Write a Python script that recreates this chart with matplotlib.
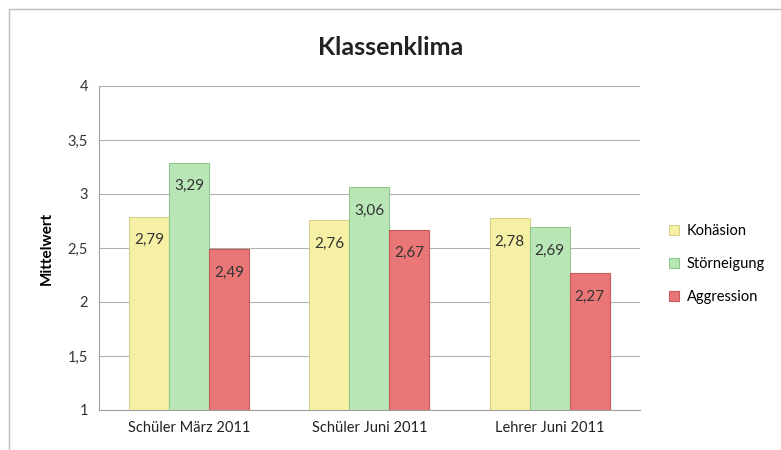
import matplotlib
matplotlib.use("Agg")
import matplotlib.pyplot as plt
import numpy as np
from matplotlib.patches import Rectangle

# data
categories = ["Schüler März 2011", "Schüler Juni 2011", "Lehrer Juni 2011"]
series_names = ["Kohäsion", "Störneigung", "Aggression"]
kohaesion = [2.79, 2.76, 2.78]
stoerneigung = [3.29, 3.06, 2.69]
aggression = [2.49, 2.67, 2.27]
yticks = [1, 1.5, 2, 2.5, 3, 3.5, 4]

colors = ["#f6f0a4", "#b9e6b6", "#e97777"]
edges = ["#d8d08a", "#8cc98c", "#c85a5a"]

plt.rcParams["font.family"] = ["Lato", "DejaVu Sans"]

fig = plt.figure(figsize=(7.81, 4.5), dpi=100)
# outer chart frame, cut off at right and bottom like the scan
fig.patches.append(Rectangle((9 / 781, -0.05), 1.0, 1.05 - 9 / 450, transform=fig.transFigure,
                             fill=False, edgecolor="#bdbdbd", linewidth=1.0))
ax = fig.add_axes([0.127, 0.089, 0.692, 0.720])

x = np.arange(len(categories))
width = 0.222
for i, (vals, name) in enumerate(zip([kohaesion, stoerneigung, aggression], series_names)):
    pos = x + (i - 1) * width
    ax.bar(pos, [v - 1 for v in vals], width, bottom=1, color=colors[i],
           edgecolor=edges[i], linewidth=0.8, label=name, zorder=3)
    for p, v in zip(pos, vals):
        ax.text(p, v - 0.22, f"{v:.2f}".replace(".", ","), ha="center", va="center",
                fontsize=11, color="#333333", zorder=4)

ax.set_ylim(1, 4)
ax.set_xlim(-0.5, 2.5)
ax.set_yticks(yticks)
ax.set_yticklabels([f"{t:g}".replace(".", ",") for t in yticks], fontsize=10.5, color="#333333")
ax.set_xticks(x)
ax.set_xticklabels(categories, fontsize=10.5, color="#222222")
ax.tick_params(axis="both", length=0, pad=8)
ax.grid(axis="y", color="#b0b0b0", linewidth=0.8, zorder=0)
for s in ["top", "right"]:
    ax.spines[s].set_visible(False)
ax.spines["left"].set_color("#a0a0a0")
ax.spines["bottom"].set_color("#a0a0a0")

ax.set_ylabel("Mittelwert", fontsize=11, fontweight="bold", labelpad=10)
fig.text(0.5, 0.895, "Klassenklima", ha="center", va="center", fontsize=18, fontweight="bold", color="#222222")

ax.legend(loc="center left", bbox_to_anchor=(1.03, 0.45), frameon=False, fontsize=10.5,
          handlelength=0.7, handleheight=0.7, labelspacing=1.3, handletextpad=0.5)

fig.savefig("out.png", dpi=100)
